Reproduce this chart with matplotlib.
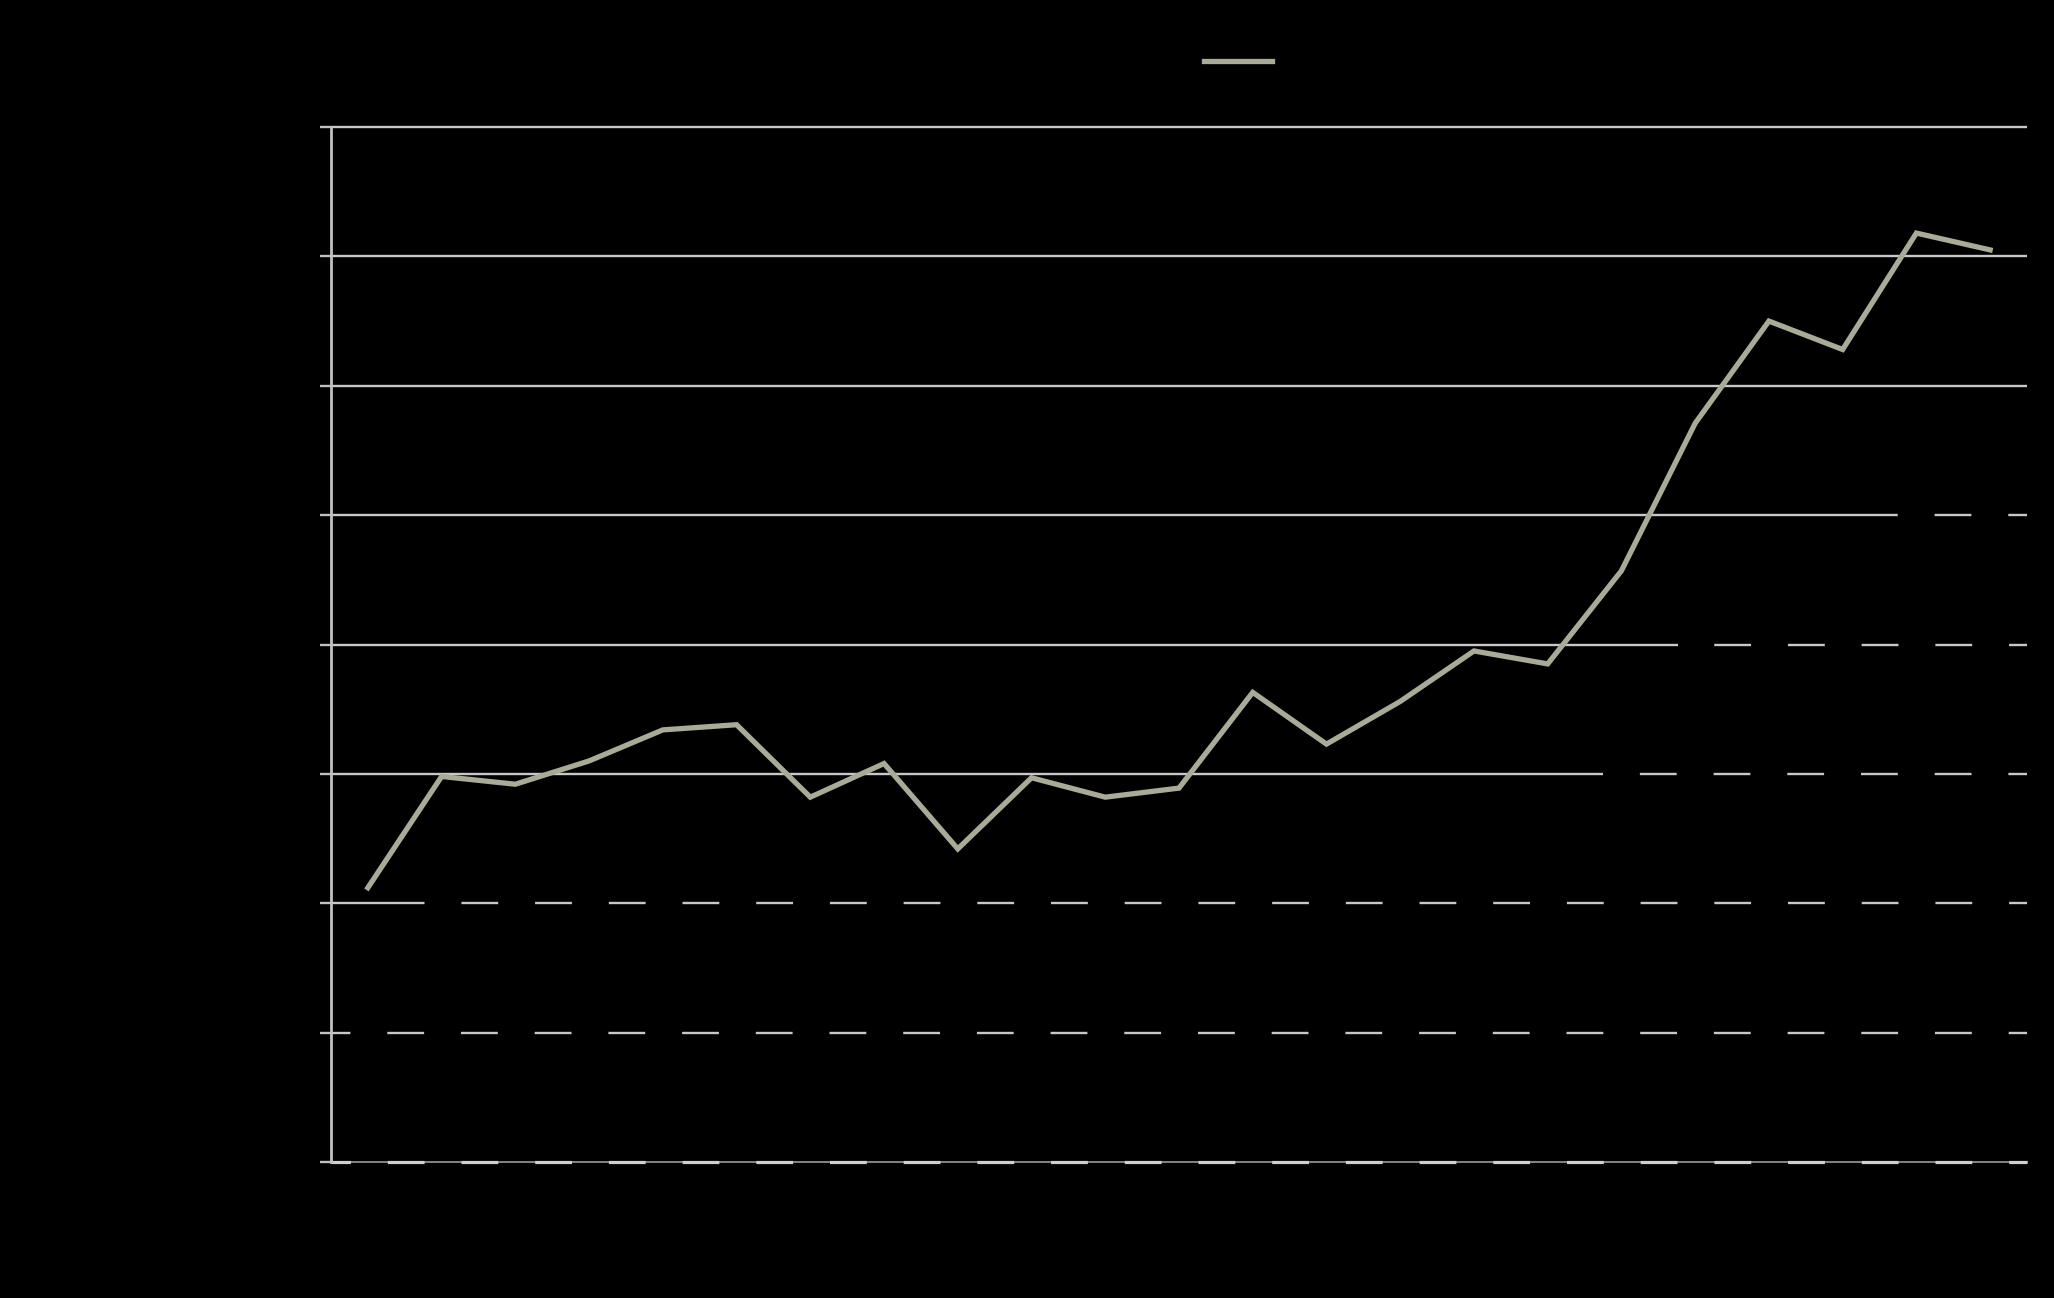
import matplotlib
matplotlib.use("Agg")
import matplotlib.pyplot as plt
import numpy as np

categories = [str(i) for i in range(1, 24)]
values = [2.12, 2.98, 2.92, 3.10, 3.34, 3.38, 2.82, 3.08, 2.42, 2.97, 2.82, 2.89,
          3.63, 3.23, 3.56, 3.95, 3.85, 4.57, 5.71, 6.50, 6.28, 7.18, 7.05]
y_ticks = [0, 1, 2, 3, 4, 5, 6, 7, 8]
series_name = "Series"

# fraction of the axis width where each gridline stops being solid
solid_until = {8: 1.0, 7: 1.0, 6: 1.0, 5: 0.923, 4: 0.794, 3: 0.749, 2: 0.054, 1: 0.0, 0: 0.0}

W, H, DPI = 2054, 1298, 100
AX_L, AX_R, AX_T, AX_B = 331, 2027, 127, 1162
fig = plt.figure(figsize=(W / DPI, H / DPI), dpi=DPI, facecolor="black")
ax = fig.add_axes([AX_L / W, 1 - AX_B / H, (AX_R - AX_L) / W, (AX_B - AX_T) / H])
ax.set_facecolor("black")

x = np.arange(len(categories))
ax.set_xlim(-0.5, len(categories) - 0.5)
ax.set_ylim(y_ticks[0], y_ticks[-1])

grid_col = "#c8c8c8"
lw = 1.7
lw_px = lw * DPI / 72
period_px = 73.7
dash_px = 36.8
ref_px = 461  # a dash begins here (global phase)
tr = ax.get_yaxis_transform()
for yv in y_ticks:
    s = solid_until[yv]
    if s > 0:
        ax.plot([0, s], [yv, yv], transform=tr, color=grid_col, lw=lw, zorder=1,
                solid_capstyle="butt", clip_on=False)
    if s < 1:
        xs = AX_L + s * (AX_R - AX_L)
        off = ((xs - ref_px) % period_px)
        if yv == 0:
            lw0 = 2.3
            lw0_px = lw0 * DPI / 72
            ax.plot([s, 1], [yv, yv], transform=tr, color="#9a9a9a", lw=1.2, zorder=1, clip_on=False)
            ax.plot([s, 1], [yv, yv], transform=tr, color="#cfcfcf", lw=lw0,
                    ls=(off / lw0_px, (dash_px / lw0_px, (period_px - dash_px) / lw0_px)),
                    solid_capstyle="butt", dash_capstyle="butt", zorder=1, clip_on=False)
        else:
            ax.plot([s, 1], [yv, yv], transform=tr, color=grid_col, lw=lw,
                    ls=(off / lw_px, (dash_px / lw_px, (period_px - dash_px) / lw_px)),
                    dash_capstyle="butt", zorder=1, clip_on=False)

ax.plot(x, values, color="#a9aa98", lw=3.8, label=series_name, zorder=3,
        solid_joinstyle="miter")

for sp in ["top", "right", "bottom"]:
    ax.spines[sp].set_visible(False)
ax.spines["left"].set_color("#c0c0c0")
ax.spines["left"].set_linewidth(2.0)
ax.set_yticks(y_ticks)
ax.tick_params(axis="y", length=8, width=1.7, color="#c0c0c0", labelcolor="black", labelsize=14)
ax.set_xticks(x)
ax.set_xticklabels(categories)
ax.tick_params(axis="x", length=0, labelcolor="black", labelsize=14)

leg = fig.legend(loc="center", bbox_to_anchor=(1276 / W, 1 - 62 / H), frameon=False,
                 handlelength=3.5, fontsize=14)
for t in leg.get_texts():
    t.set_color("black")

fig.savefig("out.png", dpi=DPI, facecolor="black")
